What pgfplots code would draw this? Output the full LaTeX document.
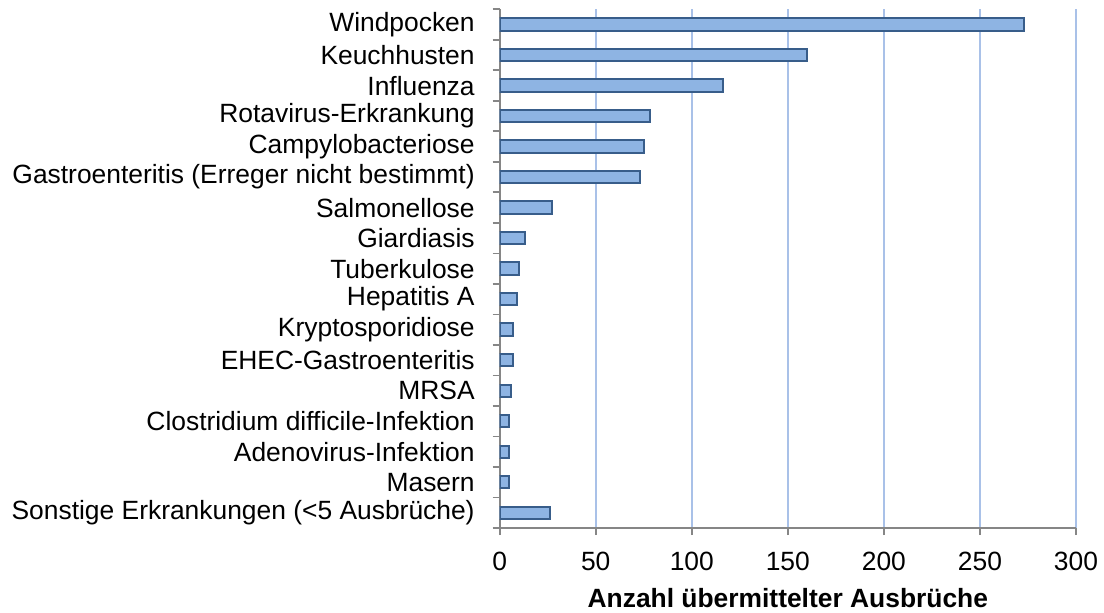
\documentclass[border=0pt]{standalone}
\usepackage{pgfplots}
\pgfplotsset{compat=1.18}
\usepackage{fontspec}
\setmainfont{Liberation Sans}
\definecolor{barfill}{HTML}{8EB4E3}
\definecolor{baredge}{HTML}{385D8A}
\definecolor{gridc}{HTML}{A9C1E8}
\definecolor{axisc}{HTML}{868686}
\newcommand{\fs}{\fontsize{13.2}{15.8}\selectfont}
\begin{document}
\begin{tikzpicture}
\begin{axis}[
  at={(0,0)}, anchor=south west,
  scale only axis, width=288.15pt, height=259.35pt,
  xbar, bar width=6.2pt,
  xmin=0, xmax=300, ymin=-0.5, ymax=16.5, y dir=reverse,
  axis lines=left, axis line style={-, axisc, line width=0.9pt},
  tick align=outside, major tick length=3.5pt, minor tick length=3.5pt,
  tick style={axisc, line width=0.9pt},
  every major y tick/.append style={draw=none},
  xtick={0,50,...,300},
  ytick={0,...,16},
  minor ytick={-0.5,0.5,...,16.5},
  yticklabels={Windpocken, Keuchhusten, Influenza, Rotavirus-Erkrankung, Campylobacteriose, Gastroenteritis (Erreger nicht bestimmt), Salmonellose, Giardiasis, Tuberkulose, Hepatitis A, Kryptosporidiose, EHEC-Gastroenteritis, MRSA, Clostridium difficile-Infektion, Adenovirus-Infektion, Masern, Sonstige Erkrankungen (<5 Ausbrüche)},
  /pgf/number format/assume math mode=true,
  ticklabel style={font=\fs},
  yticklabel style={xshift=-5.5pt},
  xticklabel style={yshift=-5pt},
  xmajorgrids, grid style={gridc, line width=0.9pt},
  xlabel={Anzahl übermittelter Ausbrüche},
  xlabel style={font=\fs\bfseries, yshift=-2pt},
]
\addplot[fill=barfill, draw=baredge, line width=1pt] coordinates {
(273,0) (160,1) (116,2) (78,3) (75,4) (73,5) (27,6) (13,7) (10,8) (9,9) (7,10) (7,11) (6,12) (5,13) (5,14) (5,15) (26,16)
};
\end{axis}
\pgfresetboundingbox
\path[use as bounding box] (-249.85pt,-42pt) rectangle (302.15pt,264pt);
\end{tikzpicture}
\end{document}
